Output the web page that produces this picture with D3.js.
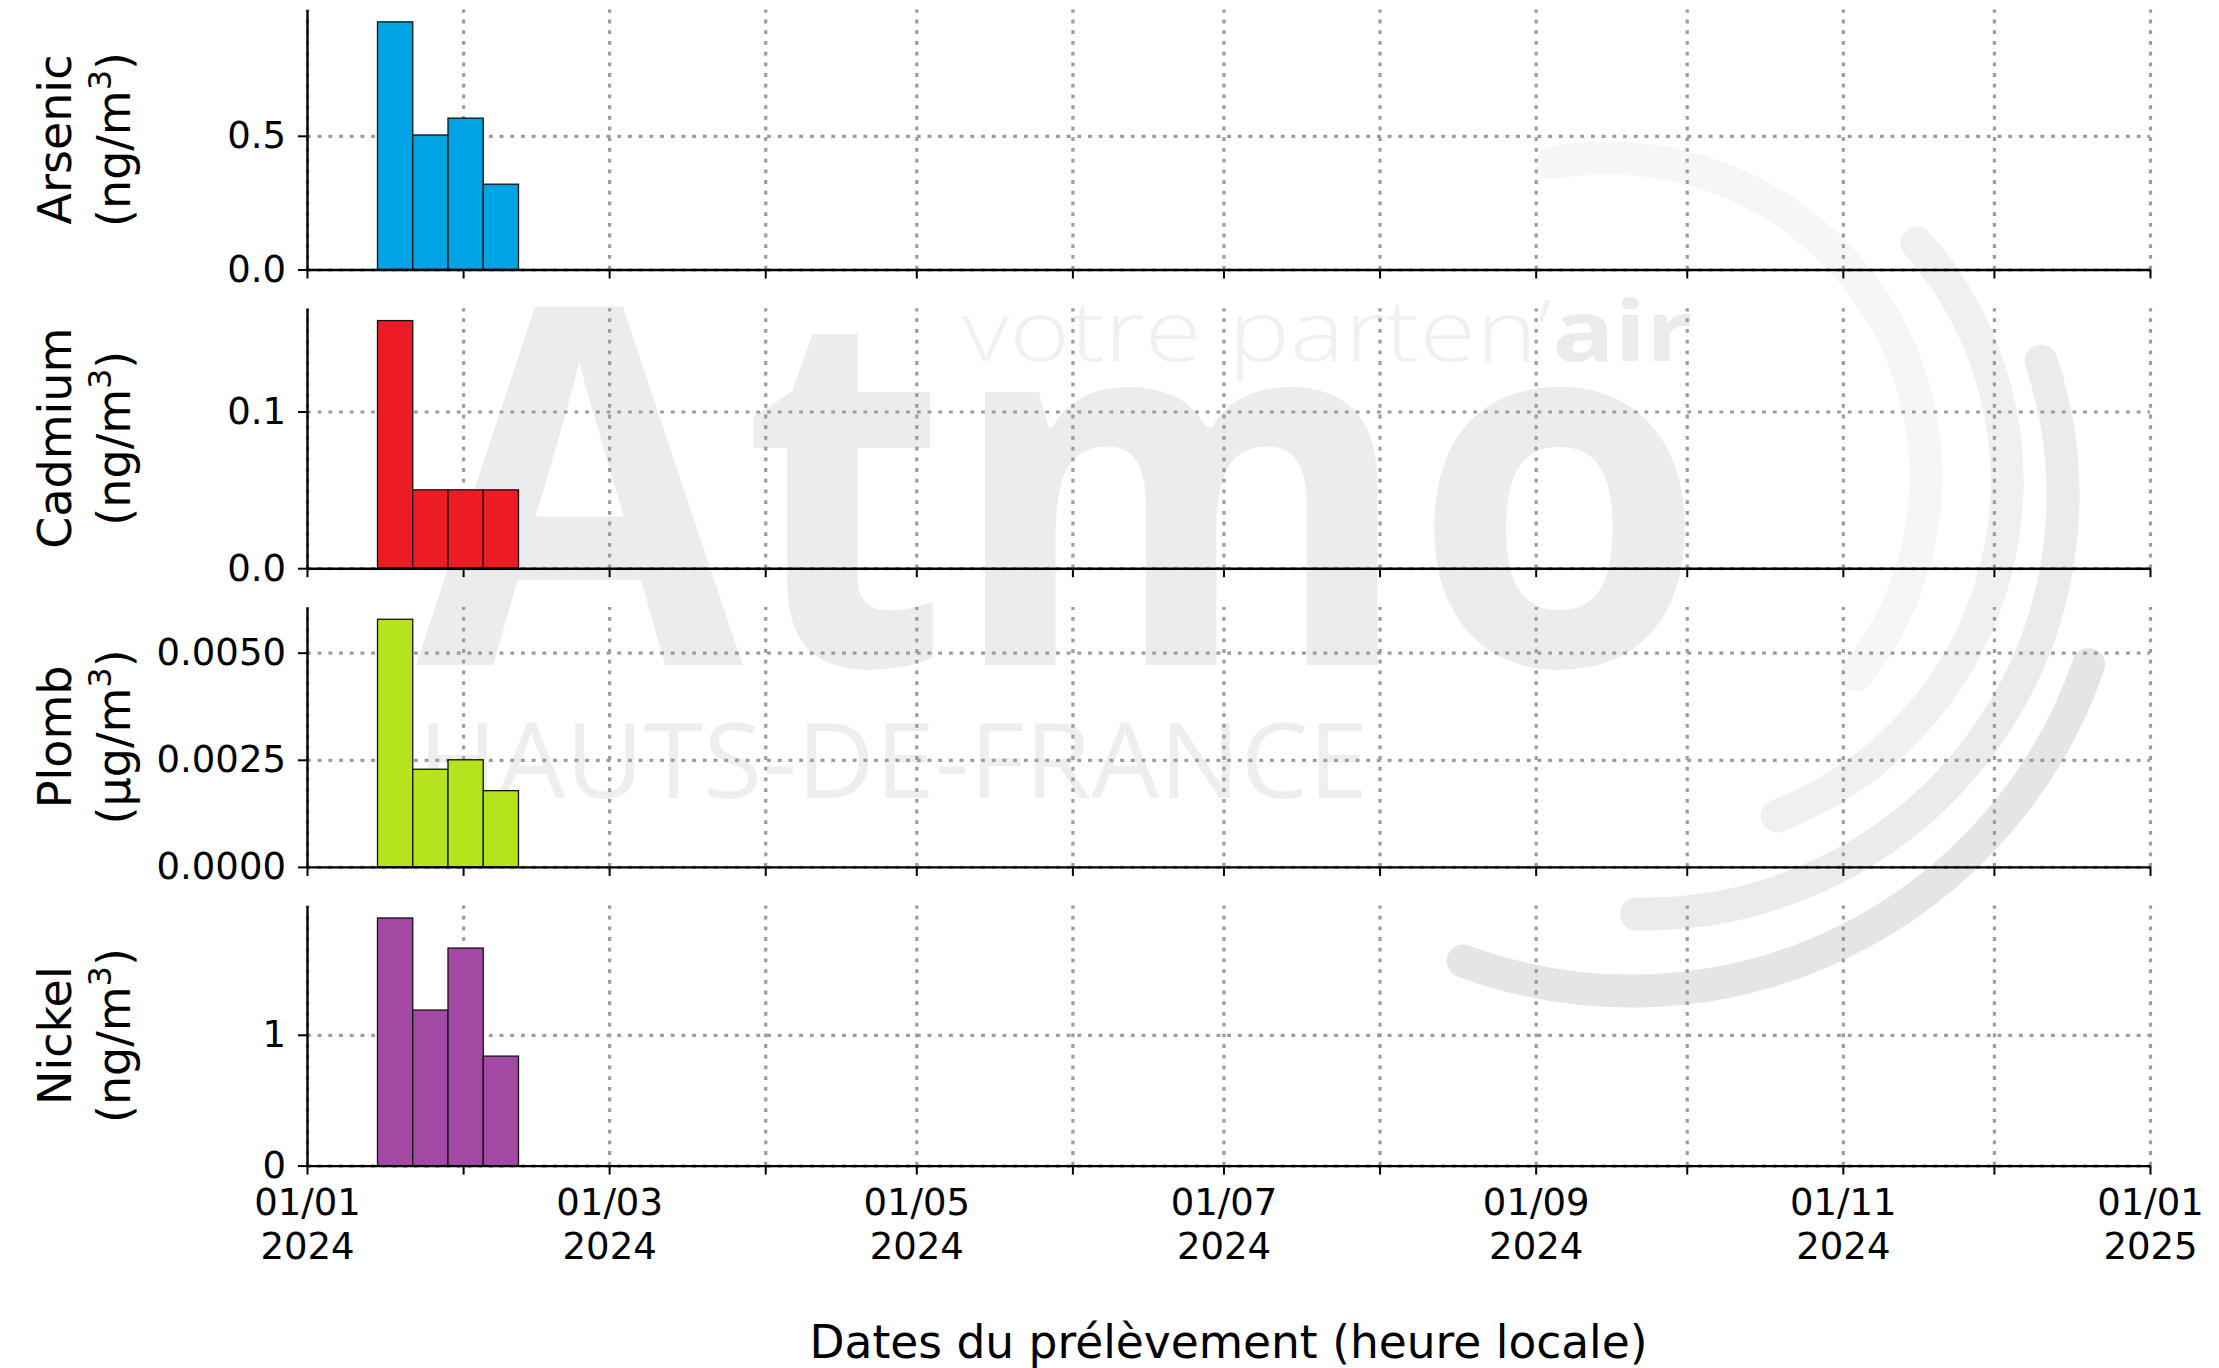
<!DOCTYPE html>
<html>
<head>
<meta charset="utf-8">
<script src="https://cdn.jsdelivr.net/npm/d3@7"></script>
<style>
  body { margin: 0; background: #fff; }
  svg { display: block; font-family: "DejaVu Sans", sans-serif; }
</style>
</head>
<body>
<svg id="chart"></svg>
<script>
(function() {
  'use strict';

// semaines de prélèvement (début de semaine)
var semaines = ['2024-01-15', '2024-01-22', '2024-01-29', '2024-02-05'];

var arsenic = [0.926, 0.503, 0.566, 0.319];
var cadmium = [0.158, 0.050, 0.050, 0.050];
var plomb = [0.00578, 0.00228, 0.0025, 0.00178];
var nickel = [1.893, 1.189, 1.663, 0.837];

var polluants = ['Arsenic', 'Cadmium', 'Plomb', 'Nickel'];
var unites = ['ng/m', 'ng/m', 'µg/m', 'ng/m'];
var couleurs = ['#00a3e4', '#ed1c24', '#b5e31e', '#a349a4'];
var yTicks = [[0, 0.5], [0, 0.1], [0, 0.0025, 0.005], [0, 1]];
var yFormats = ['.1f', '.1f', '.4f', 'd'];

var series = [arsenic, cadmium, plomb, nickel];

var width = 2219,
    height = 1368;
var left = 307,
    right = 2150;
var panelTop = 9.5,
    panelH = 260,
    panelStep = 298.7;

var parse = d3.utcParse('%Y-%m-%d');
var x = d3.scaleUtc()
    .domain([parse('2024-01-01'), parse('2025-01-01')])
    .range([left, right]);
var mois = d3.utcMonth.range(parse('2024-01-01'), parse('2025-01-02'));

var svg = d3.select('#chart')
    .attr('width', width)
    .attr('height', height);

// ---- filigrane Atmo ----
var wm = svg.append('g')
    .style('font-family', '"Open Sans", sans-serif');

wm.append('text')
    .attr('x', 416).attr('y', 665)
    .attr('font-size', 500)
    .attr('font-weight', 700)
    .attr('textLength', 1290)
    .attr('lengthAdjust', 'spacingAndGlyphs')
    .attr('fill', '#ececec')
    .text('Atmo');

var slogan = wm.append('text')
    .attr('x', 962).attr('y', 361)
    .attr('font-size', 84)
    .attr('textLength', 731)
    .attr('lengthAdjust', 'spacingAndGlyphs');
slogan.append('tspan').attr('font-weight', 300).attr('fill', '#f0f0f0').text('votre parten’');
slogan.append('tspan').attr('font-weight', 700).attr('fill', '#ebebeb').text('air');

wm.append('text')
    .attr('x', 418).attr('y', 798)
    .attr('font-size', 104)
    .attr('textLength', 950)
    .attr('lengthAdjust', 'spacingAndGlyphs')
    .attr('fill', '#eeeeee')
    .text('HAUTS-DE-FRANCE');

// arcs: centre x, centre y, rayon, angle début, angle fin (degrés), couleur
var arcs = [
  [1608, 476, 318, -100, 38.7, '#f6f6f6'],
  [1648, 481, 359, -41.5, 68.9, '#f0f0f0'],
  [1644, 495, 419, -18.6, 91, '#ebebeb'],
  [1631, 507, 484, 19, 110.3, '#e6e5e3']
];
arcs.forEach(function(a) {
  var p = d3.path();
  p.arc(a[0], a[1], a[2], a[3] * Math.PI / 180, a[4] * Math.PI / 180);
  wm.append('path')
      .attr('d', p.toString())
      .attr('fill', 'none')
      .attr('stroke', a[5])
      .attr('stroke-width', 33)
      .attr('stroke-linecap', 'round');
});

// ---- panneaux ----
polluants.forEach(function(nom, i) {
  var top = panelTop + i * panelStep,
      bottom = top + panelH;
  var data = series[i];

  var y = d3.scaleLinear()
      .domain([0, d3.max(data) * 1.05])
      .range([bottom, top]);

  var g = svg.append('g');

  // grille
  g.append('g')
      .attr('class', 'grid')
      .attr('transform', 'translate(0,' + bottom + ')')
      .call(d3.axisBottom(x).tickValues(mois).tickSize(-panelH).tickFormat(''));
  g.append('g')
      .attr('class', 'grid')
      .attr('transform', 'translate(' + left + ',0)')
      .call(d3.axisLeft(y).tickValues(yTicks[i]).tickSize(-(right - left)).tickFormat(''));
  g.selectAll('.grid .domain').remove();
  g.selectAll('.grid line')
      .attr('stroke', '#9c9c9c')
      .attr('stroke-width', 3.2)
      .attr('stroke-dasharray', '3.8,6.9');

  // barres
  g.selectAll('.bar')
      .data(data)
    .enter().append('rect')
      .attr('class', 'bar')
      .attr('x', function(d, j) { return x(parse(semaines[j])); })
      .attr('width', function(d, j) {
        return x(d3.utcDay.offset(parse(semaines[j]), 7)) - x(parse(semaines[j]));
      })
      .attr('y', function(d) { return y(d); })
      .attr('height', function(d) { return bottom - y(d); })
      .attr('fill', couleurs[i])
      .attr('stroke', '#111')
      .attr('stroke-width', 1.3);

  // axes
  var xAxis = g.append('g')
      .attr('transform', 'translate(0,' + bottom + ')')
      .call(d3.axisBottom(x).tickValues(mois).tickSize(9).tickSizeOuter(0).tickPadding(14)
        .tickFormat(''));

  var yAxis = g.append('g')
      .attr('transform', 'translate(' + left + ',0)')
      .call(d3.axisLeft(y).tickValues(yTicks[i]).tickSize(9).tickSizeOuter(0).tickPadding(12)
        .tickFormat(d3.format(yFormats[i])));

  [xAxis, yAxis].forEach(function(ax) {
    ax.attr('font-size', 37).attr('font-family', '"DejaVu Sans", sans-serif');
    ax.select('.domain').attr('stroke', '#000').attr('stroke-width', 2.4);
    ax.selectAll('.tick line').attr('stroke', '#000').attr('stroke-width', 2);
    ax.selectAll('.tick text').attr('fill', '#000');
  });

  if (i === polluants.length - 1) {
    xAxis.selectAll('.tick text').each(function(d, j) {
      if (j % 2) return;
      var t = d3.select(this);
      t.append('tspan').attr('x', 0).text(d3.utcFormat('%d/%m')(d));
      t.append('tspan').attr('x', 0).attr('dy', 44).text(d3.utcFormat('%Y')(d));
    });
  }

  // titre y
  var lab = svg.append('text')
      .attr('transform', 'translate(71,' + (top + bottom) / 2 + ') rotate(-90)')
      .attr('text-anchor', 'middle')
      .attr('font-size', 46)
      .attr('fill', '#000');
  lab.append('tspan').attr('x', 0).text(nom);
  lab.append('tspan').attr('x', 0).attr('dy', 59).text('(' + unites[i]);
  lab.append('tspan').attr('font-size', 32).attr('dy', -19).text('3');
  lab.append('tspan').attr('dy', 19).text(')');
});

svg.append('text')
    .attr('x', (left + right) / 2)
    .attr('y', 1358)
    .attr('text-anchor', 'middle')
    .attr('font-size', 45.5)
    .attr('fill', '#000')
    .text('Dates du prélèvement (heure locale)');
}());
</script>
</body>
</html>
